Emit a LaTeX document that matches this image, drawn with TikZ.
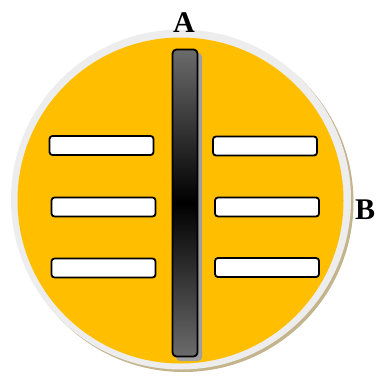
\documentclass[tikz,border=0pt]{standalone}
\usepackage{fontspec}
\setmainfont{Liberation Serif}
\begin{document}
\begin{tikzpicture}[x=1pt,y=-1pt,
  slot/.style={draw=black,line width=1.8pt,fill=white,rounded corners=3pt,minimum width=104pt,minimum height=19pt,inner sep=0pt,outer sep=0pt},
  lbl/.style={font=\fontsize{30}{30}\selectfont\bfseries,inner sep=0pt}]
\useasboundingbox (0,0) rectangle (376,377);
\definecolor{ring}{HTML}{EDEDED}
\definecolor{tan}{HTML}{C4B48C}
\definecolor{disk}{HTML}{FFBF00}
% outer ring with shadow
\fill[tan] (183.5,202) circle (170pt);
\node[circle,fill=ring,minimum size=340pt,inner sep=0pt] (ringc) at (181,199.5) {};
\node[circle,fill=disk,minimum size=326pt,inner sep=0pt] (diskc) at (180.5,200.5) {};
% bar shadow
\fill[gray!75,rounded corners=4pt] (176,53) rectangle (202,361);
\node[draw=black,line width=1.8pt,rounded corners=4pt,minimum width=25pt,minimum height=307pt,inner sep=0pt,
  top color=black!58,bottom color=black!58,middle color=black] (bar) at (185,203) {};
% slots
\node[slot] (l1) at (101.5,145.5) {};
\node[slot] (l2) at (103.5,207) {};
\node[slot] (l3) at (103.5,268) {};
\node[slot] (r1) at (265,146) {};
\node[slot] (r2) at (267,207) {};
\node[slot] (r3) at (267,267.5) {};
% labels
\node[lbl,anchor=base] (A) at (184,33) {A};
\node[lbl,anchor=base] (B) at (365,219) {B};
\end{tikzpicture}
\end{document}
